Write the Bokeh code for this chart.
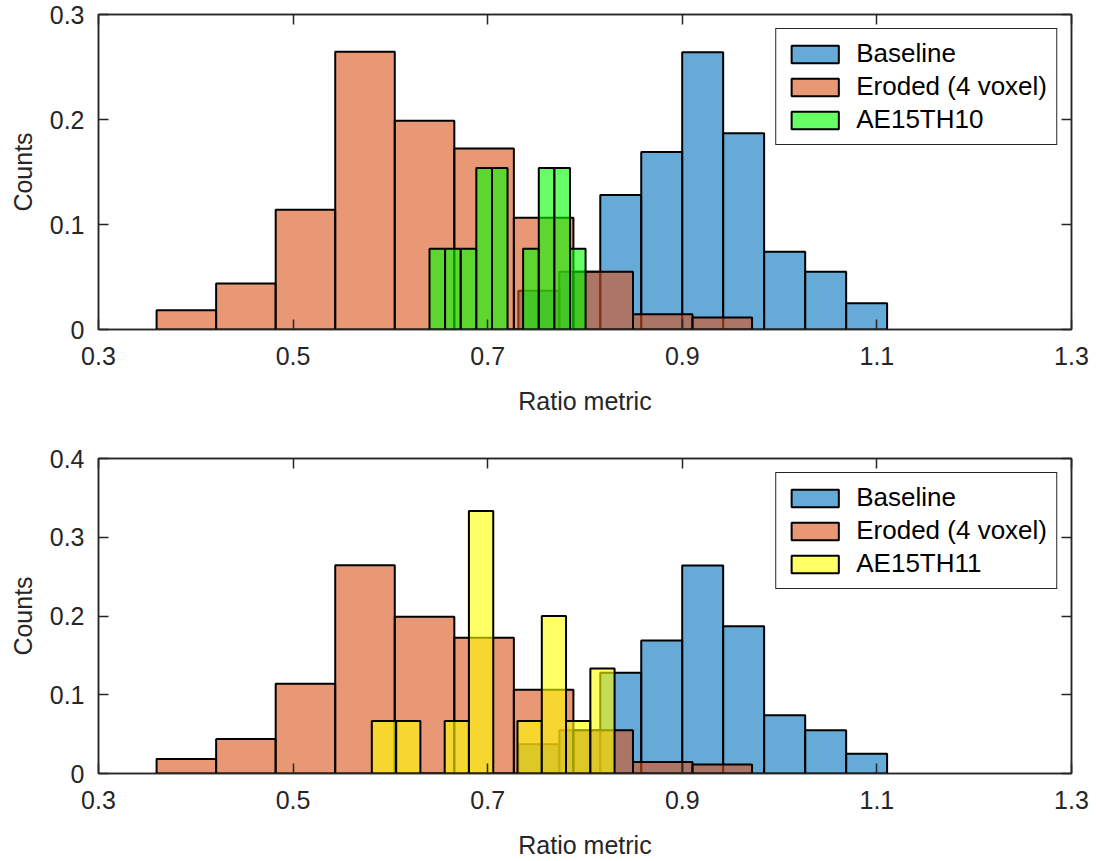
from bokeh.plotting import figure
from bokeh.models import FixedTicker, LinearAxis, Range1d, Legend, LegendItem
from bokeh.layouts import column
from bokeh.embed import file_html
from bokeh.resources import INLINE

# ---------------- data ----------------
x_ticks = [0.3, 0.5, 0.7, 0.9, 1.1, 1.3]
y_ticks_top = [0, 0.1, 0.2, 0.3]
y_ticks_bottom = [0, 0.1, 0.2, 0.3, 0.4]

baseline_edges = [0.7315, 0.7736, 0.8157, 0.8578, 0.8999, 0.9420, 0.9841, 1.0263, 1.0684, 1.1105]
baseline_values = [0.037, 0.055, 0.128, 0.169, 0.264, 0.187, 0.074, 0.055, 0.025]

eroded_edges = [0.3597, 0.4209, 0.4821, 0.5433, 0.6045, 0.6657, 0.7269, 0.7881, 0.8493, 0.9105, 0.9717]
eroded_values = [0.0184, 0.0439, 0.114, 0.2646, 0.1989, 0.1725, 0.1064, 0.0549, 0.0146, 0.0114]

ae10_edges = [0.6402, 0.6562, 0.6723, 0.6883, 0.7044, 0.7204, 0.7364, 0.7525, 0.7685, 0.7846, 0.8006]
ae10_values = [0.0769, 0.0769, 0.0769, 0.1538, 0.1538, 0.0, 0.0769, 0.1538, 0.1538, 0.0769]

ae11_edges = [0.5809, 0.6059, 0.6308, 0.6558, 0.6807, 0.7057, 0.7306, 0.7556, 0.7805, 0.8055, 0.8304]
ae11_values = [0.0667, 0.0667, 0.0, 0.0667, 0.3333, 0.0, 0.0667, 0.2, 0.0667, 0.1333]

label_baseline = "Baseline"
label_eroded = "Eroded (4 voxel)"
label_ae10 = "AE15TH10"
label_ae11 = "AE15TH11"

color_baseline = "#0072BD"
color_eroded = "#D95319"
color_ae10 = "#00FF00"
color_ae11 = "#FFFF00"

FONT = "Liberation Sans"
TXT = "#262626"


def style_axis(ax, show_labels=True):
    ax.major_tick_in = 10
    ax.major_tick_out = 0
    ax.minor_tick_in = 0
    ax.minor_tick_out = 0
    ax.axis_line_color = TXT
    ax.axis_line_width = 1.5
    ax.major_tick_line_color = TXT
    ax.major_tick_line_width = 1.5
    ax.major_label_text_font = FONT
    ax.axis_label_text_font = FONT
    ax.axis_label_text_color = TXT
    ax.axis_label_text_font_style = "normal"
    if show_labels:
        ax.major_label_text_color = TXT
        ax.major_label_text_font_size = "25px"
        ax.axis_label_text_font_size = "25px"
    else:
        # mirrored box ticks only: labels are not drawn at all
        ax.major_label_text_color = None
        ax.major_label_text_font_size = "1px"
        ax.major_label_standoff = 0


def make_panel(ymax, yticks, third_edges, third_values, third_color, third_label,
               height, border_top, border_bottom):
    p = figure(width=1096, height=height, output_backend="svg", toolbar_location=None,
               x_range=Range1d(0.3, 1.3), y_range=Range1d(0, ymax),
               min_border_left=98, min_border_right=25,
               min_border_top=border_top, min_border_bottom=border_bottom,
               background_fill_color="white", border_fill_color="white")
    p.xgrid.visible = False
    p.ygrid.visible = False
    p.outline_line_color = TXT
    p.outline_line_width = 1.5
    p.outline_line_alpha = 1.0

    rb = p.quad(left=baseline_edges[:-1], right=baseline_edges[1:], bottom=0, top=baseline_values,
                fill_color=color_baseline, fill_alpha=0.6, line_color="black", line_width=2)
    re = p.quad(left=eroded_edges[:-1], right=eroded_edges[1:], bottom=0, top=eroded_values,
                fill_color=color_eroded, fill_alpha=0.6, line_color="black", line_width=2)
    rt = p.quad(left=third_edges[:-1], right=third_edges[1:], bottom=0, top=third_values,
                fill_color=third_color, fill_alpha=0.6, line_color="black", line_width=2)

    xa = p.xaxis[0]
    xa.ticker = FixedTicker(ticks=x_ticks)
    style_axis(xa)
    xa.axis_label = "Ratio metric"
    xa.major_label_standoff = 17
    xa.axis_label_standoff = 19

    ya = p.yaxis[0]
    ya.ticker = FixedTicker(ticks=yticks)
    style_axis(ya)
    ya.axis_label = "Counts"
    ya.major_label_standoff = 14
    ya.axis_label_standoff = 10
    ya.major_label_overrides = {0: "0"}

    top_ax = LinearAxis(ticker=FixedTicker(ticks=x_ticks))
    style_axis(top_ax, show_labels=False)
    p.add_layout(top_ax, "above")
    right_ax = LinearAxis(ticker=FixedTicker(ticks=yticks))
    style_axis(right_ax, show_labels=False)
    p.add_layout(right_ax, "right")

    legend = Legend(items=[LegendItem(label=label_baseline, renderers=[rb]),
                           LegendItem(label=label_eroded, renderers=[re]),
                           LegendItem(label=third_label, renderers=[rt])],
                    location="top_right", margin=14, padding=9, spacing=2,
                    glyph_width=59, glyph_height=22, label_standoff=12, label_height=22,
                    label_text_font=FONT, label_text_font_size="26px", label_text_color="black",
                    border_line_color=TXT, border_line_width=1.5, border_line_alpha=1.0,
                    background_fill_color="white", background_fill_alpha=1.0)
    p.add_layout(legend)
    return p


p1 = make_panel(0.3, y_ticks_top, ae10_edges, ae10_values, color_ae10, label_ae10,
                height=430, border_top=14, border_bottom=101)
p2 = make_panel(0.4, y_ticks_bottom, ae11_edges, ae11_values, color_ae11, label_ae11,
                height=431, border_top=28, border_bottom=88)

layout = column(p1, p2, spacing=0)
open("out.html", "w").write(file_html(layout, INLINE))
